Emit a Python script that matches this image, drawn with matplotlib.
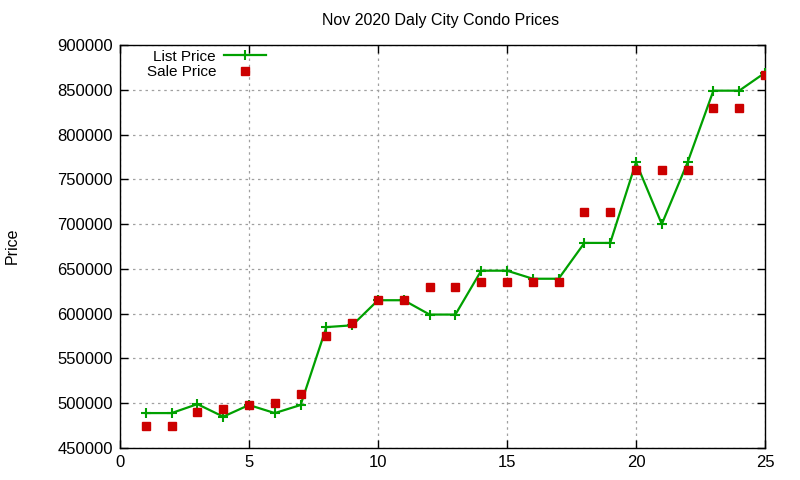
import matplotlib
matplotlib.use("Agg")
import matplotlib.pyplot as plt
from matplotlib.ticker import MultipleLocator

x = list(range(1, 26))
list_price = [489000, 489000, 499000, 485000, 498000, 489000, 498000, 585000, 587000, 615000,
              615000, 599000, 599000, 648000, 648000, 639000, 639000, 679000, 679000, 769000,
              700000, 769000, 849000, 849000, 869000]
sale_price = [475000, 475000, 490000, 494000, 498000, 500000, 510000, 575000, 590000, 615000,
              615000, 630000, 630000, 635000, 635000, 635000, 635000, 713000, 713000, 760000,
              760000, 760000, 830000, 830000, 866000]
title = "Nov 2020 Daly City Condo Prices"
ylabel = "Price"

plt.rcParams['font.family'] = ['Liberation Sans', 'DejaVu Sans']
fs = 11.5

fig = plt.figure(figsize=(8, 4.8), dpi=100)
ax = fig.add_axes([120/800, 1-448/480, (765-120)/800, (448-45)/480])

ax.plot(x, list_price, color='#00a000', lw=1.6, marker='+', ms=7, mew=1.5,
        label='List Price', zorder=3)
ax.plot(x, sale_price, ls='none', marker='s', ms=5.8, color='#cc0000',
        mec='#cc0000', label='Sale Price', zorder=4)

ax.set_xlim(0, 25)
ax.set_ylim(450000, 900000)
ax.xaxis.set_major_locator(MultipleLocator(5))
ax.yaxis.set_major_locator(MultipleLocator(50000))
ax.grid(True, color='#a0a0a0', ls=(0, (2, 3)), lw=0.9)
ax.tick_params(direction='in', top=True, right=True, length=6, width=1,
               labelsize=12, colors='black', pad=5)
for s in ax.spines.values():
    s.set_linewidth(1.0)
    s.set_color('black')

fig.text(441/800, 1-20/480, title, ha='center', va='center', fontsize=fs)
fig.text(12/800, 1-246/480, ylabel, ha='center', va='center', rotation=90, fontsize=fs)

leg = ax.legend(loc='upper left', bbox_to_anchor=(0.027, 1.011), frameon=False,
                fontsize=11, markerfirst=False, handlelength=2.8,
                borderaxespad=0.2, labelspacing=0.1, handletextpad=0.5)
for t in leg.get_texts():
    t.set_ha('right')

fig.savefig('out.png', dpi=100)
